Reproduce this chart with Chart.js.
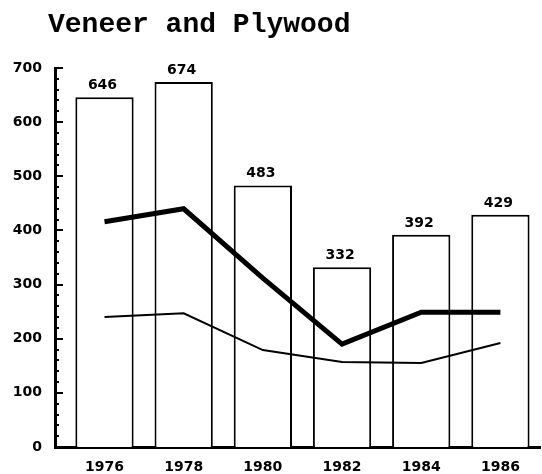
<!DOCTYPE html>
<html>
<head>
<meta charset="utf-8">
<script src="https://cdn.jsdelivr.net/npm/chart.js@4.4.0/dist/chart.umd.min.js"></script>
<style>
  html, body { margin: 0; padding: 0; background: #fff; }
  #wrap { width: 542px; height: 474px; }
</style>
</head>
<body>
<div id="wrap"><canvas id="chart"></canvas></div>
<script>
const years = [1976, 1978, 1980, 1982, 1984, 1986];
const barValues = [646, 674, 483, 332, 392, 429];
const thickLine = [416, 440, 312, 190, 249, 249];
const thinLine = [240, 247, 179, 157, 155, 192];
const titleText = 'Veneer and Plywood';

const tickFont = { family: '"DejaVu Sans", sans-serif', size: 14, weight: 'bold' };

const pts = arr => years.map((x, i) => ({ x: x, y: arr[i] }));

// inward tick marks on the y axis: long every 100, short every 20
const inwardTicks = {
  id: 'inwardTicks',
  afterDraw(chart) {
    const y = chart.scales.y;
    const ctx = chart.ctx;
    const left = chart.chartArea.left;
    ctx.save();
    ctx.strokeStyle = '#000';
    ctx.lineWidth = 2;
    for (let v = 0; v <= 700; v += 20) {
      const py = Math.round(y.getPixelForValue(v));
      const len = v % 100 === 0 ? 8 : 4;
      ctx.beginPath();
      ctx.moveTo(left, py);
      ctx.lineTo(left + len, py);
      ctx.stroke();
    }
    ctx.restore();
  }
};

const barLabels = {
  id: 'barLabels',
  afterDatasetsDraw(chart) {
    const ctx = chart.ctx;
    const meta = chart.getDatasetMeta(2);
    ctx.save();
    ctx.fillStyle = '#000';
    ctx.font = 'bold 14px "DejaVu Sans", sans-serif';
    ctx.textAlign = 'center';
    ctx.textBaseline = 'alphabetic';
    meta.data.forEach((el, i) => {
      ctx.fillText(barValues[i], el.x - 2, el.y - 8);
    });
    ctx.restore();
  }
};

const titleDraw = {
  id: 'titleDraw',
  afterDraw(chart) {
    const ctx = chart.ctx;
    ctx.save();
    ctx.fillStyle = '#000';
    ctx.font = 'bold 28px "Liberation Mono", "Courier New", monospace';
    ctx.textAlign = 'left';
    ctx.textBaseline = 'alphabetic';
    ctx.fillText(titleText, 48, 32);
    ctx.restore();
  }
};

new Chart(document.getElementById('chart'), {
  type: 'bar',
  data: {
    datasets: [
      {
        type: 'line',
        data: pts(thickLine),
        borderColor: '#000',
        borderWidth: 5,
        pointRadius: 0,
        fill: false,
        order: 0
      },
      {
        type: 'line',
        data: pts(thinLine),
        borderColor: '#000',
        borderWidth: 2,
        pointRadius: 0,
        fill: false,
        order: 1
      },
      {
        type: 'bar',
        data: pts(barValues),
        backgroundColor: '#fff',
        borderColor: '#000',
        borderWidth: 2,
        borderSkipped: 'bottom',
        categoryPercentage: 0.8,
        barPercentage: 0.92,
        order: 2
      }
    ]
  },
  options: {
    responsive: true,
    maintainAspectRatio: false,
    animation: false,
    layout: { padding: { top: 68, right: 2, left: 0, bottom: 0 } },
    plugins: {
      legend: { display: false },
      tooltip: { enabled: false }
    },
    scales: {
      x: {
        type: 'linear',
        min: 1974.75,
        max: 1987,
        offset: false,
        grid: { display: false, drawTicks: false },
        border: { display: true, color: '#000', width: 3 },
        afterBuildTicks: s => { s.ticks = years.map(v => ({ value: v })); },
        afterFit: s => { s.height = 27; },
        ticks: {
          color: '#000',
          font: tickFont,
          padding: 12,
          maxRotation: 0,
          autoSkip: false,
          callback: v => String(v)
        }
      },
      y: {
        min: 0,
        max: 700,
        grid: { display: false, drawTicks: false },
        border: { display: true, color: '#000', width: 3 },
        afterFit: s => { s.width = 55; },
        ticks: {
          stepSize: 100,
          color: '#000',
          font: tickFont,
          padding: 13
        }
      }
    }
  },
  plugins: [inwardTicks, barLabels, titleDraw]
});
</script>
</body>
</html>
